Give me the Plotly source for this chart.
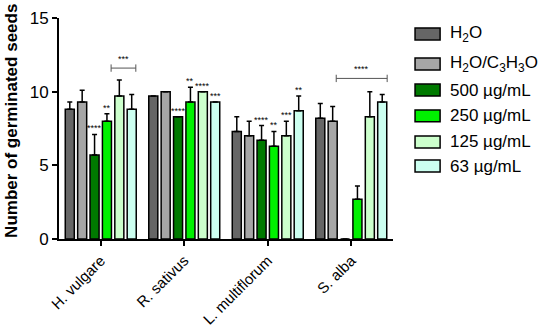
import plotly.graph_objects as go

categories = ["H. vulgare", "R. sativus", "L. multiflorum", "S. alba"]
series_names = ["H<sub>2</sub>O", "H<sub>2</sub>O/C<sub>3</sub>H<sub>3</sub>O",
                "500 µg/mL", "250 µg/mL", "125 µg/mL", "63 µg/mL"]
y_title = "Number of germinated seeds"
h2o = [8.8, 9.7, 7.3, 8.2]
h2o_err = [0.5, 0.0, 1.0, 1.0]
h2o_c3 = [9.3, 10.0, 7.0, 8.0]
h2o_c3_err = [0.8, 0.0, 1.0, 1.0]
c500 = [5.7, 8.3, 6.7, 0.0]
c500_err = [1.4, 0.0, 1.0, 0.0]
c250 = [8.0, 9.3, 6.3, 2.7]
c250_err = [0.5, 1.0, 1.0, 0.9]
c125 = [9.7, 10.0, 7.0, 8.3]
c125_err = [1.1, 0.0, 1.0, 1.7]
c63 = [8.8, 9.3, 8.7, 9.3]
c63_err = [1.0, 0.0, 1.0, 0.5]

values = [h2o, h2o_c3, c500, c250, c125, c63]
errors = [h2o_err, h2o_c3_err, c500_err, c250_err, c125_err, c63_err]
colors = ["#666666", "#a6a6a6", "#007a00", "#00f000", "#ccffcc", "#ccfff0"]

# significance labels: (category index, series index, text)
stars = [(0, 2, "****"), (0, 3, "**"),
         (1, 2, "****"), (1, 3, "**"), (1, 4, "****"), (1, 5, "***"),
         (2, 2, "****"), (2, 3, "**"), (2, 4, "***"), (2, 5, "**")]
# brackets: (category index, start offset, end offset, y value, text)
brackets = [(0, 0.124, 0.42, 11.6, "***"), (3, -0.18, 0.43, 10.9, "****")]

bargap = 0.11
nser = len(values)
slot = (1 - bargap) / nser

fig = go.Figure()
for i in range(nser):
    fig.add_trace(go.Bar(
        x=list(range(len(categories))), y=values[i], name=series_names[i],
        marker=dict(color=colors[i], line=dict(color="black", width=1.5)),
        error_y=dict(type="data", symmetric=False, array=errors[i],
                     arrayminus=[0] * len(errors[i]),
                     color="black", thickness=1.5, width=2.5,
                     visible=True),
        showlegend=False,
    ))

annotations = []
shapes = []
for ci, si, txt in stars:
    xpos = ci + (si - (nser - 1) / 2) * slot
    ypos = values[si][ci] + errors[si][ci]
    annotations.append(dict(x=xpos, y=ypos, text=txt, showarrow=False,
                            yanchor="bottom", yshift=-1,
                            font=dict(size=9, color="black", family="Liberation Sans")))
for ci, a, b, yv, txt in brackets:
    shapes.append(dict(type="line", xref="x", yref="y", x0=ci + a, x1=ci + b,
                       y0=yv, y1=yv, line=dict(color="#555555", width=1)))
    for xe in (ci + a, ci + b):
        shapes.append(dict(type="line", xref="x", yref="y", x0=xe, x1=xe,
                           y0=yv - 0.25, y1=yv + 0.25, line=dict(color="#555555", width=1)))
    annotations.append(dict(x=ci + (a + b) / 2, y=yv, text=txt, showarrow=False,
                            yanchor="bottom", yshift=2,
                            font=dict(size=9, color="black", family="Liberation Sans")))

# manual legend
leg_y = [0.928, 0.792, 0.674, 0.557, 0.439, 0.330]
for i in range(nser):
    shapes.append(dict(type="rect", xref="paper", yref="paper",
                       x0=1.066, x1=1.141, y0=leg_y[i] - 0.027, y1=leg_y[i] + 0.027,
                       fillcolor=colors[i], line=dict(color="black", width=1.5)))
    annotations.append(dict(xref="paper", yref="paper", x=1.168, y=leg_y[i],
                            text=series_names[i], showarrow=False,
                            xanchor="left", yanchor="middle", borderpad=0,
                            font=dict(size=17, color="black", family="Liberation Sans")))

# y-axis title as rotated annotation
annotations.append(dict(xref="paper", yref="paper", x=-0.141, y=0.534,
                        text="<b>" + y_title + "</b>", showarrow=False, textangle=-90,
                        xanchor="center", yanchor="middle",
                        font=dict(size=17, color="black", family="Liberation Sans")))

fig.update_layout(
    width=550, height=330,
    margin=dict(l=59, r=157, t=18, b=91, autoexpand=False),
    paper_bgcolor="white", plot_bgcolor="white",
    barmode="group", bargap=bargap, bargroupgap=0.27,
    font=dict(family="Liberation Sans", color="black"),
    annotations=annotations, shapes=shapes,
    xaxis=dict(tickmode="array", tickvals=list(range(len(categories))),
               ticktext=categories, range=[-0.5, len(categories) - 0.5],
               tickangle=-45, tickfont=dict(size=15, color="black"),
               ticklabeloverflow="allow",
               showline=True, linecolor="black", linewidth=2,
               ticks="outside", ticklen=5, tickwidth=2, tickcolor="black",
               showgrid=False, zeroline=False, automargin=False),
    yaxis=dict(range=[0, 15], tickvals=[0, 5, 10, 15],
               tickfont=dict(size=17, color="black", family="Liberation Sans"),
               showline=True, linecolor="black", linewidth=2,
               ticks="outside", ticklen=5, tickwidth=2, tickcolor="black",
               showgrid=False, zeroline=False, automargin=False,
               tickprefix="<b>", ticksuffix="</b>"),
)

fig.write_html("out.html", config={"displayModeBar": False},
               post_script="document.body.style.margin='0';document.body.style.overflow='hidden';")
